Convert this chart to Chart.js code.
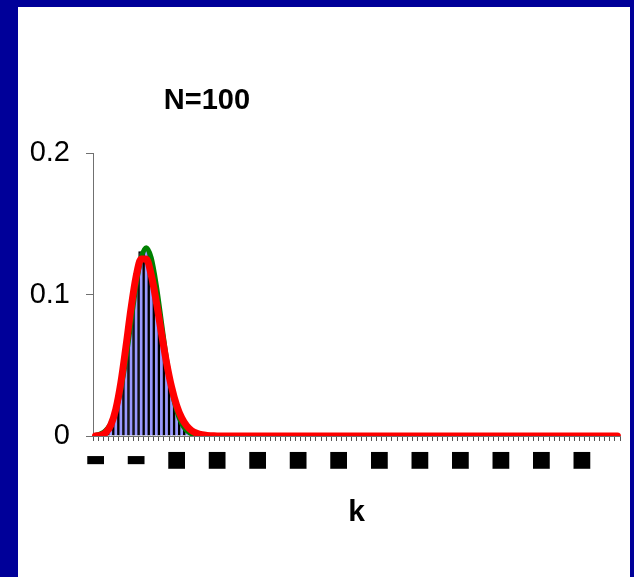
<!DOCTYPE html>
<html>
<head>
<meta charset="utf-8">
<script src="https://cdn.jsdelivr.net/npm/chart.js@4.4.1/dist/chart.umd.min.js"></script>
<style>
  html, body { margin: 0; padding: 0; }
  body { width: 634px; height: 577px; background: #000099; position: relative; overflow: hidden; }
  .panel { position: absolute; left: 18px; top: 7px; width: 612px; height: 570px; background: #fff; }
  .panel canvas { position: absolute; left: 0; top: 0; }
  .title { position: absolute; left: 89px; top: 77px; width: 200px; text-align: center;
           font: bold 29px "Liberation Sans", Arial, sans-serif; line-height: 30px; color: #000; }
</style>
</head>
<body>
<div class="panel">
  <canvas id="myChart" width="612" height="570"></canvas>
  <div class="title">N=100</div>
</div>
<script>
// k = 0 .. 103
const kLabels = [
  0, 1, 2, 3, 4, 5, 6, 7, 8, 9, 10, 11, 12, 13, 14, 15, 16, 17, 18, 19,
  20, 21, 22, 23, 24, 25, 26, 27, 28, 29, 30, 31, 32, 33, 34, 35, 36, 37, 38, 39,
  40, 41, 42, 43, 44, 45, 46, 47, 48, 49, 50, 51, 52, 53, 54, 55, 56, 57, 58, 59,
  60, 61, 62, 63, 64, 65, 66, 67, 68, 69, 70, 71, 72, 73, 74, 75, 76, 77, 78, 79,
  80, 81, 82, 83, 84, 85, 86, 87, 88, 89, 90, 91, 92, 93, 94, 95, 96, 97, 98, 99,
  100, 101, 102, 103
];

// tick labels come out as filled boxes in the original
const xTickAt = [0, 8, 16, 24, 32, 40, 48, 56, 64, 72, 80, 88, 96];
const xTickText = ["▬", "▬", "■", "■", "■", "■", "■", "■", "■", "■", "■", "■", "■"];
const yTicks = [0, 0.1, 0.2];

// bars
const binomial = [
  0.0000, 0.0003, 0.0016, 0.0059, 0.0159, 0.0339, 0.0596, 0.0889, 0.1148, 0.1304,
  0.1319, 0.1199, 0.0988, 0.0743, 0.0513, 0.0327, 0.0193, 0.0106, 0.0054, 0.0026,
  0.0012, 0.0005, 0.0002, 0.0001,
  0, 0, 0, 0, 0, 0, 0, 0, 0, 0, 0, 0, 0, 0, 0, 0, 0, 0, 0, 0,
  0, 0, 0, 0, 0, 0, 0, 0, 0, 0, 0, 0, 0, 0, 0, 0, 0, 0, 0, 0,
  0, 0, 0, 0, 0, 0, 0, 0, 0, 0, 0, 0, 0, 0, 0, 0, 0, 0, 0, 0,
  0, 0, 0, 0, 0, 0, 0, 0, 0, 0, 0, 0, 0, 0, 0, 0, 0, 0, 0, 0
];

// green curve
const normalApprox = [
  0.0005, 0.0015, 0.0038, 0.0087, 0.0180, 0.0332, 0.0547, 0.0807, 0.1065, 0.1258,
  0.1330, 0.1258, 0.1065, 0.0807, 0.0547, 0.0332, 0.0180, 0.0087, 0.0038, 0.0015,
  0.0005, 0.0002, 0.0000, 0.0000,
  0, 0, 0, 0, 0, 0, 0, 0, 0, 0, 0, 0, 0, 0, 0, 0, 0, 0, 0, 0,
  0, 0, 0, 0, 0, 0, 0, 0, 0, 0, 0, 0, 0, 0, 0, 0, 0, 0, 0, 0,
  0, 0, 0, 0, 0, 0, 0, 0, 0, 0, 0, 0, 0, 0, 0, 0, 0, 0, 0, 0,
  0, 0, 0, 0, 0, 0, 0, 0, 0, 0, 0, 0, 0, 0, 0, 0, 0, 0, 0, 0
];

// red curve
const poisson = [
  0.0000, 0.0005, 0.0023, 0.0076, 0.0189, 0.0378, 0.0631, 0.0901, 0.1126, 0.1251,
  0.1251, 0.1137, 0.0948, 0.0729, 0.0521, 0.0347, 0.0217, 0.0128, 0.0071, 0.0037,
  0.0019, 0.0009, 0.0004, 0.0002,
  0, 0, 0, 0, 0, 0, 0, 0, 0, 0, 0, 0, 0, 0, 0, 0, 0, 0, 0, 0,
  0, 0, 0, 0, 0, 0, 0, 0, 0, 0, 0, 0, 0, 0, 0, 0, 0, 0, 0, 0,
  0, 0, 0, 0, 0, 0, 0, 0, 0, 0, 0, 0, 0, 0, 0, 0, 0, 0, 0, 0,
  0, 0, 0, 0, 0, 0, 0, 0, 0, 0, 0, 0, 0, 0, 0, 0, 0, 0, 0, 0
];

const axisGray = "#707070";
const lineClip = { left: 8, top: 8, right: 8, bottom: 0 };

const ctx = document.getElementById("myChart").getContext("2d");

window.myChart = new Chart(ctx, {
  type: "bar",
  data: {
    labels: kLabels,
    datasets: [
      {
        type: "line",
        label: "poisson",
        data: poisson,
        borderColor: "#ff0000",
        borderWidth: 7,
        pointRadius: 0,
        cubicInterpolationMode: "monotone",
        borderCapStyle: "round",
        borderJoinStyle: "round",
        clip: lineClip,
        order: 1,
      },
      {
        type: "line",
        label: "normal",
        data: normalApprox,
        borderColor: "#008000",
        borderWidth: 5,
        pointRadius: 0,
        cubicInterpolationMode: "monotone",
        borderJoinStyle: "round",
        clip: lineClip,
        order: 2,
      },
      {
        label: "binomial",
        data: binomial,
        backgroundColor: "#9999ff",
        borderColor: "#000000",
        borderWidth: 1.5,
        barPercentage: 1,
        categoryPercentage: 1,
        order: 3,
      },
    ],
  },
  options: {
    responsive: false,
    animation: false,
    layout: {
      padding: { top: 146, right: 10, bottom: 46, left: 0 },
    },
    scales: {
      x: {
        offset: true,
        grid: {
          display: true,
          drawOnChartArea: false,
          drawTicks: true,
          tickLength: 5,
          color: "#555555",
          offset: true,
        },
        border: { display: true, color: axisGray },
        ticks: {
          autoSkip: false,
          maxRotation: 0,
          minRotation: 0,
          padding: 6,
          color: "#000",
          font: { family: "DejaVu Sans", size: 22 },
          callback: (value, index) => {
            let i = xTickAt.indexOf(index);
            return i >= 0 ? xTickText[i] : "";
          },
        },
        title: {
          display: true,
          text: "k",
          color: "#000",
          padding: 0,
          font: { family: "Liberation Sans", size: 30, weight: "bold" },
        },
        afterFit: (scale) => {
          scale.height = 95;
        },
      },
      y: {
        min: 0,
        max: 0.2,
        afterBuildTicks: (scale) => {
          scale.ticks = yTicks.map((v) => ({ value: v }));
        },
        grid: {
          display: true,
          drawOnChartArea: false,
          drawTicks: true,
          tickLength: 7,
          color: axisGray,
        },
        border: { display: true, color: axisGray },
        ticks: {
          padding: 16,
          color: "#000",
          font: { family: "Liberation Sans", size: 29 },
        },
        afterFit: (scale) => {
          scale.width = 75;
        },
      },
    },
    plugins: {
      legend: { display: false },
      tooltip: { enabled: false },
      title: { display: false },
    },
  },
});
</script>
</body>
</html>
